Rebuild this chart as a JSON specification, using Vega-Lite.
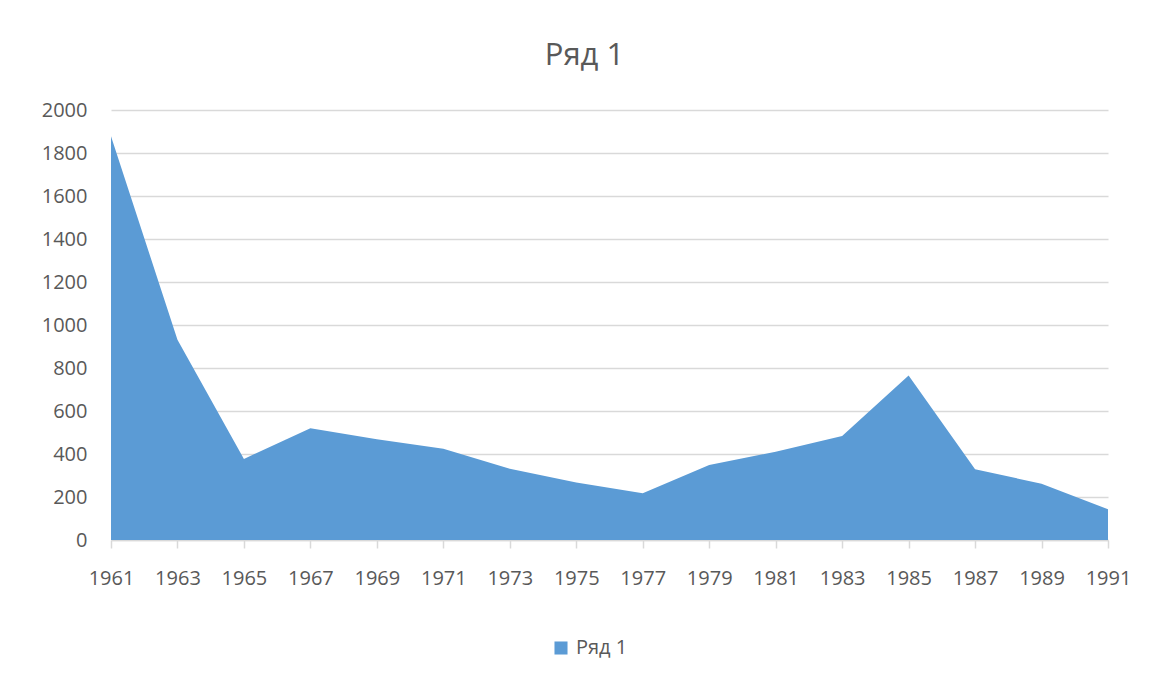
{
  "$schema": "https://vega.github.io/schema/vega-lite/v6.json",
  "width": 997,
  "height": 430,
  "autosize": {"type": "none"},
  "padding": {"left": 111, "top": 110, "right": 44, "bottom": 137},
  "background": "white",
  "title": {
    "text": "Ряд 1",
    "fontSize": 31,
    "font": "Open Sans",
    "fontWeight": "normal",
    "color": "#595959",
    "anchor": "middle",
    "frame": "group",
    "dx": -25,
    "offset": 28
  },
  "data": {
    "values": [
      {"year": "1961", "value": 1878, "series": "Ряд 1"},
      {"year": "1963", "value": 931, "series": "Ряд 1"},
      {"year": "1965", "value": 377, "series": "Ряд 1"},
      {"year": "1967", "value": 520, "series": "Ряд 1"},
      {"year": "1969", "value": 469, "series": "Ряд 1"},
      {"year": "1971", "value": 424, "series": "Ряд 1"},
      {"year": "1973", "value": 331, "series": "Ряд 1"},
      {"year": "1975", "value": 268, "series": "Ряд 1"},
      {"year": "1977", "value": 217, "series": "Ряд 1"},
      {"year": "1979", "value": 349, "series": "Ряд 1"},
      {"year": "1981", "value": 411, "series": "Ряд 1"},
      {"year": "1983", "value": 484, "series": "Ряд 1"},
      {"year": "1985", "value": 765, "series": "Ряд 1"},
      {"year": "1987", "value": 329, "series": "Ряд 1"},
      {"year": "1989", "value": 262, "series": "Ряд 1"},
      {"year": "1991", "value": 143, "series": "Ряд 1"}
    ]
  },
  "mark": {"type": "area", "interpolate": "linear"},
  "encoding": {
    "x": {
      "field": "year",
      "type": "ordinal",
      "sort": null,
      "scale": {"type": "point", "padding": 0},
      "axis": {
        "title": null,
        "labelAngle": 0,
        "labelFont": "Open Sans",
        "labelFontSize": 20,
        "labelColor": "#595959",
        "labelPadding": 20,
        "domainColor": "#d9d9d9",
        "domainWidth": 1.5,
        "tickColor": "#d9d9d9",
        "tickSize": 8,
        "tickWidth": 1.5,
        "grid": false
      }
    },
    "y": {
      "field": "value",
      "type": "quantitative",
      "scale": {"domain": [0, 2000], "nice": false},
      "axis": {
        "title": null,
        "format": "d",
        "values": [0, 200, 400, 600, 800, 1000, 1200, 1400, 1600, 1800, 2000],
        "labelFont": "Open Sans",
        "labelFontSize": 20,
        "labelColor": "#595959",
        "labelPadding": 24,
        "domain": false,
        "ticks": false,
        "grid": true,
        "gridColor": "#d9d9d9",
        "gridWidth": 1.5
      }
    },
    "color": {
      "field": "series",
      "type": "nominal",
      "scale": {"range": ["#5b9bd5"]},
      "legend": {
        "title": null,
        "orient": "none",
        "legendX": 440,
        "legendY": 528,
        "direction": "horizontal",
        "symbolType": "square",
        "symbolSize": 170,
        "symbolStrokeWidth": 0,
        "symbolOpacity": 1,
        "labelFont": "Open Sans",
        "labelFontSize": 20,
        "labelColor": "#595959",
        "labelOffset": 5
      }
    }
  },
  "config": {
    "view": {"stroke": null},
    "area": {"opacity": 1}
  }
}
